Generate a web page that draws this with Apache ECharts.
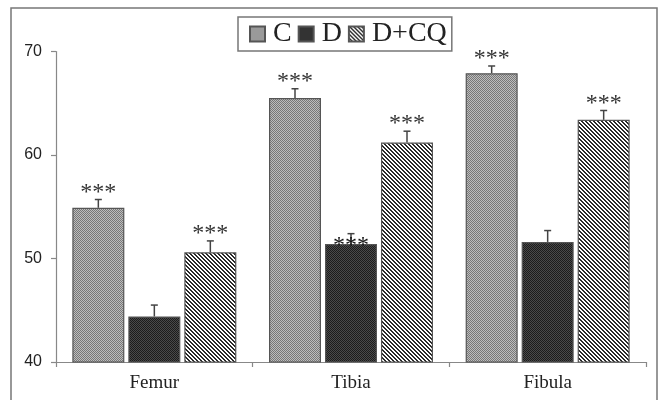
<!DOCTYPE html>
<html>
<head>
<meta charset="utf-8">
<script src="https://cdn.jsdelivr.net/npm/echarts@6/dist/echarts.min.js"></script>
<style>
  html, body { margin: 0; padding: 0; background: #fff; }
  #chart { width: 659px; height: 400px; }
</style>
</head>
<body>
<div id="chart"></div>
<script>
// data
const categories = ['Femur', 'Tibia', 'Fibula'];
const seriesNames = ['C', 'D', 'D+CQ'];
const valuesC = [54.9, 65.5, 67.9];
const valuesD = [44.4, 51.4, 51.6];
const valuesDCQ = [50.6, 61.2, 63.4];
const errC = [0.8, 0.9, 0.7];
const errD = [1.1, 1.0, 1.1];
const errDCQ = [1.1, 1.1, 0.9];
const starsC = ['***', '***', '***'];
const starsD = ['', '***', ''];
const starsDCQ = ['***', '***', '***'];
const yTicks = [40, 50, 60, 70];

const values = [valuesC, valuesD, valuesDCQ];
const errs = [errC, errD, errDCQ];
const stars = [starsC, starsD, starsDCQ];

const BAR_W = 52;
const BAR_GAP = 4;

// small canvas patterns for the bar fills
const makePattern = (size, draw) => {
  const c = document.createElement('canvas');
  c.width = size;
  c.height = size;
  draw(c.getContext('2d'));
  return {image: c, repeat: 'repeat'};
};

const patC = makePattern(4, ctx => {
  ctx.fillStyle = '#bdbdbd';
  ctx.fillRect(0, 0, 4, 4);
  ctx.fillStyle = '#777';
  for (let y = 0; y < 4; y++) {
    for (let x = 0; x < 4; x++) {
      if ((x + y) % 2 === 0) ctx.fillRect(x, y, 1, 1);
    }
  }
});

const patD = makePattern(4, ctx => {
  ctx.fillStyle = '#4a4a4a';
  ctx.fillRect(0, 0, 4, 4);
  ctx.fillStyle = '#1c1c1c';
  for (let y = 0; y < 4; y++) {
    for (let x = 0; x < 4; x++) {
      if ((x + y) % 2 === 0) ctx.fillRect(x, y, 1, 1);
    }
  }
});

const patDCQ = makePattern(4, ctx => {
  ctx.fillStyle = '#ffffff';
  ctx.fillRect(0, 0, 4, 4);
  ctx.fillStyle = '#2a2a2a';
  for (let i = 0; i < 4; i++) {
    ctx.fillRect(i, i, 1, 1);
    ctx.fillRect((i + 1) % 4, i, 1, 1);
  }
});

const patterns = [patC, patD, patDCQ];

const chart = echarts.init(document.getElementById('chart'), null, {renderer: 'canvas'});

const barSeries = seriesNames.map((name, i) => ({
  name: name,
  type: 'bar',
  data: values[i],
  barWidth: BAR_W,
  barGap: (BAR_GAP / BAR_W * 100) + '%',
  barCategoryGap: '15%',
  itemStyle: {
    color: patterns[i],
    borderColor: '#555',
    borderWidth: 1.2,
  },
  z: 2,
}));

// error bars + significance stars
const errorSeries = {
  type: 'custom',
  name: 'err',
  data: categories.flatMap((c, ci) => seriesNames.map((s, si) => [ci, si])),
  renderItem: (params, api) => {
    const ci = api.value(0);
    const si = api.value(1);
    const v = values[si][ci];
    const e = errs[si][ci];
    const top = api.coord([ci, v]);
    const errTop = api.coord([ci, v + e]);
    const x = top[0] + (si - 1) * (BAR_W + BAR_GAP);
    const children = [
      {
        type: 'line',
        shape: {x1: x, y1: top[1], x2: x, y2: errTop[1]},
        style: {stroke: '#444', lineWidth: 1.5},
      },
      {
        type: 'line',
        shape: {x1: x - 3.5, y1: errTop[1], x2: x + 3.5, y2: errTop[1]},
        style: {stroke: '#444', lineWidth: 1.5},
      },
    ];
    const s = stars[si][ci];
    if (s) {
      // the D stars sit down on the bar top in the original
      const ty = si === 1 ? top[1] + 14 : errTop[1] + 5;
      children.push({
        type: 'text',
        style: {
          x: x,
          y: ty,
          text: s,
          fill: si === 1 ? '#111' : '#333',
          font: '24px "Liberation Serif", "Times New Roman", serif',
          align: 'center',
          verticalAlign: 'bottom',
        },
      });
    }
    return {type: 'group', children: children};
  },
  z: 5,
  silent: true,
};

chart.setOption({
  animation: false,
  backgroundColor: '#fff',
  graphic: [
    {
      type: 'rect',
      shape: {x: 11, y: 8, width: 646, height: 400},
      style: {fill: null, stroke: '#777', lineWidth: 1.5},
      silent: true,
    },
  ],
  grid: {
    left: 56,
    right: 13,
    top: 51.5,
    bottom: 38,
  },
  legend: {
    data: seriesNames,
    left: 238,
    top: 17,
    padding: [3, 5, 3, 11],
    itemWidth: 15,
    itemHeight: 15,
    itemGap: 6,
    icon: 'rect',
    borderColor: '#777',
    borderWidth: 1.5,
    textStyle: {
      fontFamily: '"Liberation Serif", "Times New Roman", serif',
      fontSize: 28,
      color: '#222',
      padding: [0, 0, 0, 3],
    },
  },
  xAxis: {
    type: 'category',
    data: categories,
    axisLine: {lineStyle: {color: '#888', width: 1.2}},
    axisTick: {show: true, length: 5, lineStyle: {color: '#888', width: 1.2}},
    axisLabel: {
      fontFamily: '"Liberation Serif", "Times New Roman", serif',
      fontSize: 19,
      color: '#222',
      margin: 12,
    },
  },
  yAxis: {
    type: 'value',
    min: yTicks[0],
    max: yTicks[yTicks.length - 1],
    interval: 10,
    axisLine: {show: true, lineStyle: {color: '#888', width: 1.2}},
    axisTick: {show: true, length: 5, lineStyle: {color: '#888', width: 1.2}},
    splitLine: {show: false},
    axisLabel: {
      fontFamily: '"Liberation Sans", Arial, sans-serif',
      fontSize: 16,
      color: '#222',
      margin: 14,
    },
  },
  series: [...barSeries, errorSeries],
});
</script>
</body>
</html>
